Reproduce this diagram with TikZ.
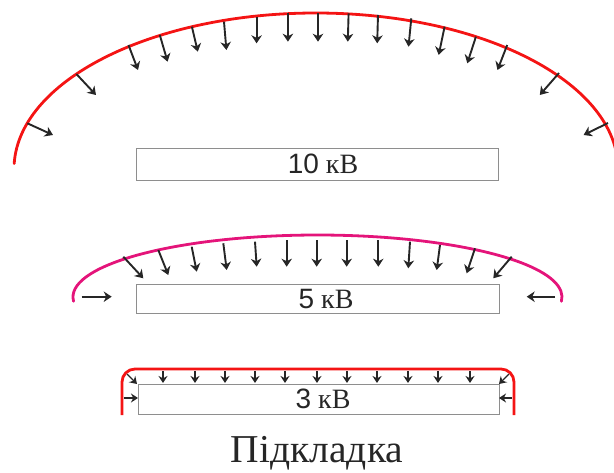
\documentclass[tikz,border=0pt]{standalone}
\usepackage{fontspec}
\setmainfont{Liberation Serif}
\newfontfamily\sansf{Liberation Sans}
\usetikzlibrary{arrows.meta}
\definecolor{redline}{HTML}{F41414}
\definecolor{pinkline}{HTML}{E4147A}
\definecolor{arrgray}{HTML}{262626}
\definecolor{boxgray}{HTML}{8E8E8E}
\tikzset{
  plate/.style={draw=boxgray,line width=1.3pt,fill=white,inner sep=0pt,anchor=north west},
  lbl/.style={font=\fontsize{28}{30}\selectfont,text=black!85,inner sep=0pt},
  field/.style={line width=2.8pt,line cap=round},
  bigarr/.style={draw=arrgray,line width=1.9pt,-{Stealth[length=8pt,width=10.5pt,inset=2.5pt]}},
  smallarr/.style={draw=arrgray,line width=1.4pt,-{Stealth[length=7pt,width=9pt]}},
}
\begin{document}
\begin{tikzpicture}[x=1pt,y=-1pt]
\useasboundingbox (0,0) rectangle (614,472);
% ---------- 10 kV ----------
\draw[field,redline] (316,169) ++(182:302 and 156) arc[start angle=182,end angle=360,x radius=302,y radius=156];
\node[plate,minimum width=362pt,minimum height=32pt] (r10) at (136,148) {};
\node[lbl] (t10) at (323,164) {{\sansf 10} кВ};
\foreach \a/\b/\c/\d in {27.4/123.3/53/135, 76.4/74/96/95, 128.5/45/138/70, 159.8/35/167.6/61.7,
  191.9/26.7/197.8/51.7, 224/21.7/226.4/50, 256.6/16.7/256.6/43.3, 287.9/13.3/287.9/41.7,
  318/13.3/318/41.7, 348.6/13.3/347.8/41.7, 378/15/377.2/43.3, 411.3/18.3/408.5/46.7,
  444.6/26.7/438.7/55, 475.9/36.7/467.3/63.3, 507.2/45/497.5/70, 559/73/539.8/95, 608/123/583.6/135}
  \draw[bigarr] (\a,\b) -- (\c,\d);
% ---------- 5 kV ----------
\draw[field,pinkline] (317.5,297) ++(176:244.5 and 62) arc[start angle=176,end angle=364,x radius=244.5,y radius=62];
\node[plate,minimum width=363pt,minimum height=29pt] (r5) at (136,284) {};
\node[lbl] (t5) at (326,299) {{\sansf 5} кВ};
\foreach \a/\b/\c/\d in {123.3/256.7/143.3/278.3, 158.3/250/168.3/275, 191.7/246.7/196.7/271.7,
  223.3/243.3/226.7/270, 255/241.7/256.7/266.7, 286.7/240/286.7/266.7, 316.7/240/316.7/266.7,
  346.7/240/346.7/266.7, 378.3/240/378.3/266.7, 410/241.7/408.3/268.3, 440/245/436.7/270,
  475/248.3/466.7/273.3, 511.7/256.7/493.3/278.3, 81.7/296.7/111.7/296.7, 555/296.7/526.7/296.7}
  \draw[bigarr] (\a,\b) -- (\c,\d);
% ---------- 3 kV ----------
\draw[field,redline,line cap=butt,rounded corners=13pt] (122,415) -- (122,369) -- (514,369) -- (514,415);
\node[plate,minimum width=361pt,minimum height=30pt,line width=1.1pt] (r3) at (138,384) {};
\node[lbl] (t3) at (323,399) {{\sansf 3} кВ};
\foreach \x in {163,195,225,255,285,317,347,377,408,438,470}
  \draw[smallarr] (\x,371) -- (\x,383);
\draw[smallarr] (127,374) -- (137,384);
\draw[smallarr] (509,374) -- (499,384);
\draw[smallarr] (124,398) -- (138,398);
\draw[smallarr] (512,398) -- (499,398);
% ---------- caption ----------
\node[font=\fontsize{39.5}{42}\selectfont,inner sep=0pt,anchor=base,text=black!85] (cap) at (317,462) {Підкладка};
\end{tikzpicture}
\end{document}
